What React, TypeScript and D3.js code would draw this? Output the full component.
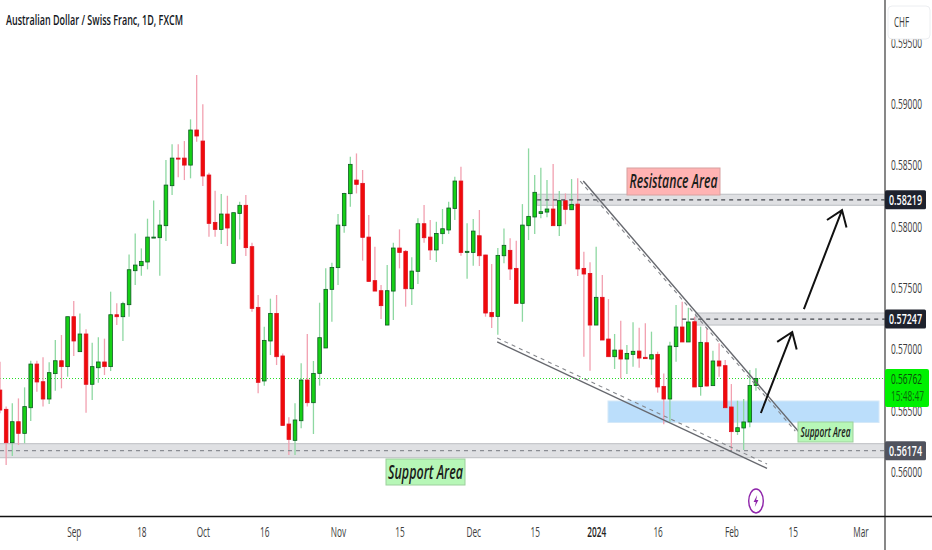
import { useEffect, useRef } from "react"
import * as d3 from "d3"

// daily AUD/CHF candles, prices in 1/100000 CHF
const highs = [
  56899, 56533, 56560, 56600, 56690, 56907, 56907, 56935, 56894, 57076,
  57117, 57266, 57394, 57293, 57163, 57054, 57098, 57087, 57470, 57375,
  57388, 57774, 57945, 57823, 58065, 58214, 58136, 58543, 58671, 58671,
  58698, 58875, 59236, 58997, 58440, 58293, 58266, 58252, 58114, 58203,
  58258, 57869, 57443, 57185, 57413, 57443, 56967, 56446, 56560, 56886,
  57125, 56905, 57380, 57660, 57706, 58103, 58277, 58570, 58597, 58462,
  58095, 57837, 57524, 57687, 57869, 57978, 57810, 57750, 58068, 58176,
  58054, 58040, 58144, 58203, 58407, 58489, 58027, 58062, 58136, 57771,
  57695, 57826, 57986, 57905, 57886, 58184, 58638, 58421, 58481, 58380,
  58510, 58290, 58271, 58388, 58394, 57796, 57709, 57837, 57606, 57410,
  57125, 57234, 57035, 57220, 57176, 57212, 57144, 56981, 56804, 57062,
  57361, 57388, 57339, 57266, 57185, 57171, 56989, 57049, 56913, 56717,
  56581, 56595, 56831, 56845,
]
const lows = [
  56478, 56057, 56130, 56220, 56234, 56416, 56655, 56533, 56554, 56663,
  56682, 56777, 56946, 56981, 56484, 56587, 56728, 56791, 56823, 57198,
  57068, 57266, 57524, 57600, 57652, 57907, 57600, 57883, 58258, 58402,
  58380, 58394, 58693, 58331, 57918, 57918, 57858, 57842, 57701, 57896,
  57761, 57307, 56641, 56704, 56954, 56872, 56380, 56139, 56139, 56356,
  56533, 56310, 56704, 57011, 57225, 57524, 57951, 58163, 58271, 57723,
  57551, 57475, 57247, 57198, 57239, 57660, 57348, 57361, 57532, 57869,
  57728, 57712, 57858, 57940, 58054, 57763, 57576, 57682, 57679, 57266,
  57174, 57119, 57701, 57565, 57375, 57225, 57891, 57940, 58068, 58076,
  58008, 57924, 58019, 58136, 57598, 56940, 56826, 57198, 57076, 56940,
  56840, 56763, 56799, 56859, 56850, 56924, 56791, 56647, 56389, 56410,
  56899, 57060, 57060, 56693, 56622, 56696, 56704, 56777, 56524, 56179,
  56302, 56179, 56364, 56663,
]
const opens = [
  56668, 56511, 56239, 56410, 56315, 56524, 56880, 56736, 56595, 56802,
  56907, 56859, 57266, 56981, 57125, 56715, 56850, 56897, 56859, 57282,
  57266, 57364, 57641, 57682, 57712, 57907, 57910, 58008, 58334, 58559,
  58559, 58502, 58788, 58698, 58421, 58035, 57978, 58103, 57701, 58108,
  58174, 57837, 57342, 56742, 57068, 57293, 56946, 56391, 56258, 56418,
  56750, 56565, 56804, 57011, 57489, 57666, 58008, 58269, 58380, 58353,
  57915, 57560, 57478, 57198, 57475, 57826, 57799, 57494, 57636, 58024,
  57915, 57810, 57943, 57973, 58149, 58372, 57790, 57790, 57926, 57769,
  57301, 57269, 57763, 57807, 57660, 57375, 58008, 58079, 58108, 58119,
  58144, 58008, 58212, 58138, 58184, 57660, 57619, 57198, 57424, 57084,
  56940, 56994, 56921, 56959, 56986, 56935, 56921, 56959, 56698, 56595,
  57022, 57182, 57060, 57225, 56696, 57054, 56704, 56905, 56867, 56530,
  56329, 56359, 56408, 56706,
]
const closes = [
  56505, 56239, 56410, 56315, 56533, 56880, 56734, 56595, 56810, 56907,
  56859, 57266, 57068, 57125, 56715, 56859, 56897, 56859, 57282, 57266,
  57372, 57649, 57687, 57717, 57915, 57915, 58013, 58339, 58559, 58551,
  58502, 58788, 58739, 58413, 58027, 57978, 58103, 57989, 58114, 58174,
  57829, 57334, 56731, 57073, 57293, 56940, 56380, 56266, 56424, 56750,
  56565, 56804, 57095, 57489, 57668, 58013, 58271, 58508, 58345, 57913,
  57554, 57475, 57356, 57478, 57826, 57790, 57494, 57638, 58024, 57910,
  57810, 57945, 57983, 58152, 58372, 57790, 57799, 57964, 57763, 57296,
  57266, 57766, 57848, 57655, 57375, 58013, 58084, 58280, 58122, 58144,
  58008, 58212, 58141, 58182, 57655, 57614, 57198, 57424, 57076, 56940,
  56994, 56921, 56967, 56984, 56929, 56924, 56956, 56693, 56595, 57027,
  57182, 57060, 57223, 56693, 57057, 56701, 56905, 56864, 56524, 56329,
  56361, 56408, 56706, 56762,
]

const priceTicks = [56000, 56500, 57000, 57500, 58000, 58500, 59000, 59500]
const timeLabels = ["Sep", "18", "Oct", "16", "Nov", "15", "Dec", "15", "2024", "16", "Feb", "15", "Mar"]
const timeBars = [12, 23, 33, 43, 55, 65, 77, 87, 97, 107, 119, 129, 140]

const lastPrice = 56762
const supportLevel = 56174
const midLevel = 57247
const topLevel = 58219

// drawings: [bar, price]
const upperSolid = [[94.9, 58372], [130, 56326]]
const upperDashed = [[94.4, 58372], [129.4, 56334]]
const lowerSolid = [[80.9, 57060], [124.8, 56029]]
const lowerDashed = [[80.9, 57092], [124.8, 56065]]
const arrowOne = [[123.8, 56481], [128.9, 57141]]
const arrowTwo = [[130.8, 57328], [137, 58135]]

const W = 932
const H = 550
const axisX = 885
const paneBottom = 516.5
const font = "'Open Sans', 'Liberation Sans', sans-serif"

// the source picture is squeezed sideways, so text is fitted to a measured width
const fit = (sel: any, width: number) =>
  sel.attr("textLength", width).attr("lengthAdjust", "spacingAndGlyphs")

export default function App() {
  const svgRef = useRef<SVGSVGElement>(null)

  useEffect(() => {
    if (!svgRef.current) return
    const svg = d3.select(svgRef.current)
    svg.selectAll("*").remove()

    const x = d3.scaleLinear().domain([0, 150]).range([0, 150 * 6.146])
    const y = d3.scaleLinear().domain([56000, 59000]).range([472, 104])
    const pt = (d: number[]) => [x(d[0]), y(d[1])] as [number, number]

    const pane = svg.append("g")

    // zones under the candles
    const band = (x0: number, level: number, h: number) => {
      pane.append("rect")
        .attr("x", x0).attr("y", y(level) - h / 2)
        .attr("width", axisX - x0).attr("height", h)
        .attr("fill", "#dfe0e3").attr("stroke", "#c4c6ca").attr("stroke-width", 1.2)
    }
    band(-2, supportLevel, 14)
    band(x(87.4), topLevel, 11)
    band(x(113.2), midLevel, 12)

    pane.append("rect")
      .attr("x", 608).attr("y", 401).attr("width", 271).attr("height", 21.5)
      .attr("fill", "#bbdefb").attr("stroke", "#d4e8f8")

    pane.append("line")
      .attr("x1", 0).attr("x2", axisX).attr("y1", y(lastPrice)).attr("y2", y(lastPrice))
      .attr("stroke", "#22dd22").attr("stroke-width", 1).attr("stroke-dasharray", "1 2")

    // wicks then bodies
    const bars = d3.range(highs.length)
    pane.append("g").selectAll("line").data(bars).enter().append("line")
      .attr("x1", (i) => x(i)).attr("x2", (i) => x(i))
      .attr("y1", (i) => y(highs[i])).attr("y2", (i) => y(lows[i]))
      .attr("stroke", (i) => (closes[i] >= opens[i] ? "#8ed8a2" : "#f2a0b0"))
      .attr("stroke-width", 1.3)

    pane.append("g").selectAll("rect").data(bars).enter().append("rect")
      .attr("x", (i) => x(i) - 1.8)
      .attr("width", 3.6)
      .attr("y", (i) => y(Math.max(opens[i], closes[i])))
      .attr("height", (i) => Math.max(1, Math.abs(y(opens[i]) - y(closes[i]))))
      .attr("fill", (i) => (closes[i] >= opens[i] ? "#16d016" : "#f00a0a"))
      .attr("stroke", (i) => (closes[i] >= opens[i] ? "#0c5a20" : "#e01020"))
      .attr("stroke-width", 0.8)

    // dashed level lines above the candles
    const level = (x0: number, v: number, color: string) => {
      pane.append("line")
        .attr("x1", x0).attr("x2", axisX).attr("y1", y(v)).attr("y2", y(v))
        .attr("stroke", color).attr("stroke-width", 1.2).attr("stroke-dasharray", "4 4")
    }
    level(0, supportLevel, "#8a8d93")
    level(x(87.4), topLevel, "#44474e")
    level(x(111), midLevel, "#44474e")

    // wedge lines
    const wedge = (d: number[][], dashed: boolean) => {
      const [a, b] = [pt(d[0]), pt(d[1])]
      pane.append("line")
        .attr("x1", a[0]).attr("y1", a[1]).attr("x2", b[0]).attr("y2", b[1])
        .attr("stroke", dashed ? "#85878c" : "#66686e")
        .attr("stroke-width", dashed ? 1.1 : 1.4)
        .attr("stroke-dasharray", dashed ? "4 4" : null)
    }
    wedge(upperDashed, true)
    wedge(upperSolid, false)
    wedge(lowerDashed, true)
    wedge(lowerSolid, false)

    // arrows
    const arrow = (d: number[][]) => {
      const [a, b] = [pt(d[0]), pt(d[1])]
      const ang = Math.atan2(a[1] - b[1], a[0] - b[0])
      const wing = (t: number) => [b[0] + 18 * Math.cos(ang + t), b[1] + 18 * Math.sin(ang + t)]
      const [w1, w2] = [wing(0.62), wing(-0.62)]
      pane.append("path")
        .attr("d", `M${a}L${b}M${w1}L${b}L${w2}`)
        .attr("fill", "none").attr("stroke", "#111").attr("stroke-width", 2)
    }
    arrow(arrowOne)
    arrow(arrowTwo)

    // area labels
    const tag = (x0: number, y0: number, w: number, h: number, fill: string, border: string, text: string, size: number, tw: number) => {
      pane.append("rect")
        .attr("x", x0).attr("y", y0).attr("width", w).attr("height", h)
        .attr("fill", fill).attr("stroke", border)
      const t = pane.append("text")
        .attr("x", x0 + w / 2).attr("y", y0 + h / 2 + size * 0.36)
        .attr("text-anchor", "middle")
        .attr("font-family", font).attr("font-style", "italic").attr("font-size", size).attr("font-weight", 600)
        .attr("fill", "#1a201a").text(text)
      fit(t, tw)
    }
    tag(627, 168, 93, 27, "#ffb3b3", "#d8a0a0", "Resistance Area", 19, 88)
    tag(386, 459, 79, 26, "#b7f7b7", "#9ccf9c", "Support Area", 19, 75)
    tag(798, 422, 55, 20, "#b7f7b7", "#9ccf9c", "Support Area", 14, 50)

    // lightning badge
    const badge = svg.append("g").attr("transform", "translate(756,501)")
    badge.append("ellipse").attr("rx", 7.3).attr("ry", 12).attr("fill", "#fff").attr("stroke", "#8e24aa").attr("stroke-width", 1.4)
    badge.append("path").attr("d", "M1.2,-6L-2.4,1H-0.2L-1.2,6L2.4,-1H0.2Z").attr("fill", "#8e24aa")

    // price axis
    svg.append("rect").attr("x", axisX).attr("y", 0).attr("width", W - axisX).attr("height", H).attr("fill", "#fff")
    svg.append("line").attr("x1", axisX).attr("x2", axisX).attr("y1", 0).attr("y2", H).attr("stroke", "#555").attr("stroke-width", 1.4)
    svg.append("line").attr("x1", 0).attr("x2", W).attr("y1", paneBottom).attr("y2", paneBottom).attr("stroke", "#111").attr("stroke-width", 1.3)

    const yAxis = d3.axisRight(y).tickValues(priceTicks).tickSize(0).tickPadding(6)
      .tickFormat((d) => ((d as number) / 100000).toFixed(5))
    const yg = svg.append("g").attr("transform", `translate(${axisX},0)`).call(yAxis)
    yg.select(".domain").remove()
    const yLabels = yg.selectAll("text").attr("font-family", font).attr("font-size", 14.5).attr("fill", "#3c3c3c")
    fit(yLabels, 31)

    const xAxis = d3.axisBottom(x).tickValues(timeBars).tickSize(0).tickPadding(10)
      .tickFormat((_, i) => timeLabels[i])
    const xg = svg.append("g").attr("transform", `translate(0,${paneBottom})`).call(xAxis)
    xg.select(".domain").remove()
    xg.selectAll<SVGTextElement, number>("text")
      .attr("font-family", font).attr("font-size", 14.5)
      .attr("font-weight", (_, i) => (timeLabels[i] === "2024" ? 600 : 400))
      .attr("fill", (_, i) => (timeLabels[i] === "2024" ? "#222" : "#3c3c3c"))
      .attr("lengthAdjust", "spacingAndGlyphs")
      .attr("textLength", function () { return this.getComputedTextLength() * 0.57 })

    svg.append("rect").attr("x", 888).attr("y", 6).attr("width", 42).attr("height", 33).attr("rx", 4)
      .attr("fill", "#fff").attr("stroke", "#eceef1")
    fit(svg.append("text").attr("x", 894).attr("y", 27).attr("font-family", font).attr("font-size", 14.5).attr("fill", "#3c3c3c").text("CHF"), 15)

    // level tags on the axis
    const priceTag = (v: number, fill: string) => {
      svg.append("rect").attr("x", axisX).attr("y", y(v) - 9.5).attr("width", 41).attr("height", 19).attr("rx", 1.5).attr("fill", fill)
      const t = svg.append("text").attr("x", axisX + 20.5).attr("y", y(v) + 5).attr("text-anchor", "middle")
        .attr("font-family", font).attr("font-size", 14.5).attr("font-weight", 600).attr("fill", "#fff")
        .text((v / 100000).toFixed(5))
      fit(t, 33)
    }
    priceTag(topLevel, "#1e222d")
    priceTag(midLevel, "#1e222d")
    priceTag(supportLevel, "#50535e")

    const ly = y(lastPrice)
    svg.append("rect").attr("x", axisX).attr("y", ly - 9.5).attr("width", 44).attr("height", 38).attr("rx", 2).attr("fill", "#00f000")
    fit(svg.append("text").attr("x", axisX + 6).attr("y", ly + 5).attr("font-family", font).attr("font-size", 14.5).attr("fill", "#0c4a0c").text((lastPrice / 100000).toFixed(5)), 31)
    fit(svg.append("text").attr("x", axisX + 6).attr("y", ly + 22).attr("font-family", font).attr("font-size", 14.5).attr("fill", "#0c6a0c").text("15:48:47"), 33)

    const title = svg.append("text").attr("x", 6).attr("y", 25).attr("font-family", font).attr("font-size", 15).attr("font-weight", 600).attr("fill", "#131722")
      .text("Australian Dollar / Swiss Franc, 1D, FXCM")
    fit(title, 177)
  }, [])

  return (
    <svg
      ref={svgRef}
      width={W}
      height={H}
      style={{ position: "absolute", left: 0, top: 0, background: "#fff" }}
    />
  )
}
